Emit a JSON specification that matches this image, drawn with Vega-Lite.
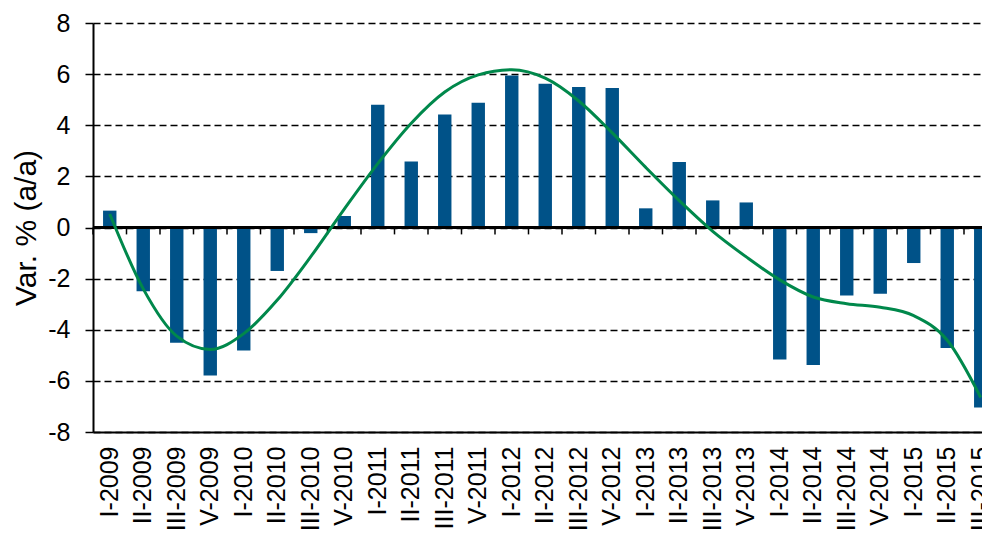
{
  "$schema": "https://vega.github.io/schema/vega-lite/v6.json",
  "width": 889,
  "height": 409,
  "autosize": "none",
  "padding": {"left": 93, "top": 23, "right": 0, "bottom": 102},
  "background": "white",
  "config": {
    "view": {"stroke": null},
    "font": "Liberation Sans",
    "axis": {"labelColor": "black", "titleColor": "black", "labelFont": "Liberation Sans", "titleFont": "Liberation Sans"}
  },
  "data": {
    "values": [
      {"q": "I-2009", "v": 0.66, "t": 0.53},
      {"q": "II-2009", "v": -2.49, "t": -2.4},
      {"q": "III-2009", "v": -4.51, "t": -4.25},
      {"q": "V-2009", "v": -5.79, "t": -4.77},
      {"q": "I-2010", "v": -4.81, "t": -4.15},
      {"q": "II-2010", "v": -1.7, "t": -2.84},
      {"q": "III-2010", "v": -0.22, "t": -1.14},
      {"q": "V-2010", "v": 0.45, "t": 0.72},
      {"q": "I-2011", "v": 4.8, "t": 2.5},
      {"q": "II-2011", "v": 2.58, "t": 4.08},
      {"q": "III-2011", "v": 4.42, "t": 5.3},
      {"q": "V-2011", "v": 4.88, "t": 5.97},
      {"q": "I-2012", "v": 5.95, "t": 6.17},
      {"q": "II-2012", "v": 5.62, "t": 5.84},
      {"q": "III-2012", "v": 5.5, "t": 4.95},
      {"q": "V-2012", "v": 5.46, "t": 3.7},
      {"q": "I-2013", "v": 0.75, "t": 2.35},
      {"q": "II-2013", "v": 2.56, "t": 1.05},
      {"q": "III-2013", "v": 1.06, "t": -0.15},
      {"q": "V-2013", "v": 0.98, "t": -1.15},
      {"q": "I-2014", "v": -5.16, "t": -2.05},
      {"q": "II-2014", "v": -5.38, "t": -2.72},
      {"q": "III-2014", "v": -2.66, "t": -2.98},
      {"q": "V-2014", "v": -2.59, "t": -3.12},
      {"q": "I-2015", "v": -1.39, "t": -3.45},
      {"q": "II-2015", "v": -4.71, "t": -4.41},
      {"q": "III-2015", "v": -7.04, "t": -6.65}
    ]
  },
  "layer": [
    {
      "mark": {"type": "bar", "width": {"band": 0.4}, "color": "#005288"},
      "encoding": {
        "x": {
          "field": "q", "type": "nominal", "sort": null,
          "scale": {"type": "band", "paddingInner": 0, "paddingOuter": 0, "range": [0, 904.5]},
          "axis": {
            "orient": "bottom", "title": null,
            "labelAngle": -90, "labelFontSize": 25, "labelPadding": 14, "labelOverlap": false,
            "ticks": false, "domain": true, "domainColor": "black", "domainWidth": 2, "grid": false
          }
        },
        "y": {
          "field": "v", "type": "quantitative",
          "scale": {"domain": [-8, 8], "nice": false},
          "axis": {
            "title": "Var. % (a/a)", "titleFontSize": 30, "titleFontWeight": "normal", "titlePadding": 6,
            "values": [-8, -6, -4, -2, 0, 2, 4, 6, 8], "labelExpr": "'' + datum.value",
            "labelFontSize": 25, "labelPadding": 15,
            "tickSize": 8, "tickColor": "black", "tickWidth": 1.5,
            "domainColor": "black", "domainWidth": 2,
            "grid": true, "gridColor": "black", "gridDash": [7, 4], "gridWidth": 1.3
          }
        }
      }
    },
    {
      "mark": {"type": "rule", "color": "black", "strokeWidth": 2},
      "encoding": {
        "y": {"datum": 0, "type": "quantitative"}
      }
    },
    {
      "mark": {"type": "rule", "color": "black", "strokeWidth": 1.5},
      "encoding": {
        "x": {"field": "q", "type": "nominal", "sort": null, "bandPosition": 0},
        "y": {"datum": 0, "type": "quantitative"},
        "y2": {"datum": -0.27}
      }
    },
    {
      "mark": {"type": "line", "interpolate": "monotone", "color": "#00884B", "strokeWidth": 3},
      "encoding": {
        "x": {"field": "q", "type": "nominal", "sort": null},
        "y": {"field": "t", "type": "quantitative", "title": "Var. % (a/a)"}
      }
    }
  ]
}
